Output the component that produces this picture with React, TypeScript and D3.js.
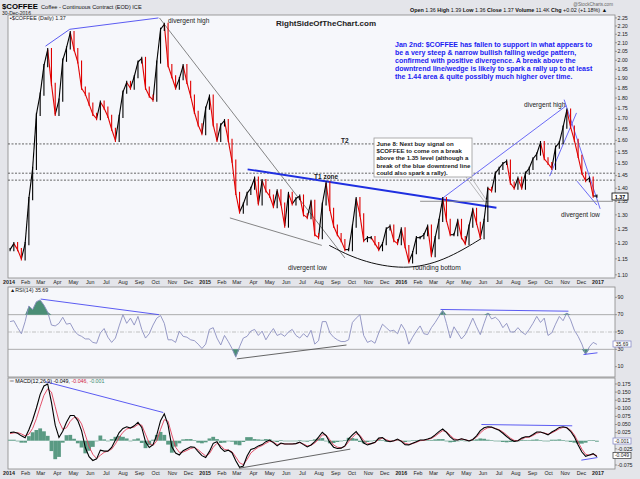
import React from "react";
import * as d3 from "d3";

// ---------- DATA (weekly samples) ----------
const WEEK0 = "2014-01-03";
const closes = [
  1.18, 1.2, 1.18, 1.15, 1.2, 1.36, 1.48, 1.72, 1.82, 1.97,
  2.06, 1.87, 1.72, 1.79, 2.0, 2.07, 2.16, 2.06, 1.99, 1.85,
  1.82, 1.77, 1.72, 1.7, 1.78, 1.75, 1.71, 1.65, 1.6, 1.71,
  1.83, 1.88, 1.85, 1.91, 1.99, 2.01, 1.85, 1.81, 1.79, 1.99,
  2.18, 2.21, 1.97, 1.91, 1.85, 1.9, 1.97, 1.88, 1.81, 1.73,
  1.67, 1.63, 1.75, 1.81, 1.67, 1.6, 1.67, 1.69, 1.6, 1.51,
  1.38, 1.31, 1.34, 1.38, 1.4, 1.44, 1.34, 1.43, 1.39, 1.37,
  1.33, 1.39, 1.34, 1.26, 1.38, 1.34, 1.36, 1.37, 1.3, 1.29,
  1.35, 1.23, 1.22, 1.34, 1.42, 1.32, 1.26, 1.23, 1.21, 1.18,
  1.18, 1.26, 1.36, 1.3, 1.21, 1.22, 1.22, 1.2, 1.18, 1.2,
  1.25, 1.26, 1.21, 1.2, 1.25, 1.19, 1.14, 1.17, 1.22, 1.22,
  1.23, 1.26, 1.16, 1.22, 1.28, 1.36, 1.28, 1.23, 1.23, 1.28,
  1.22, 1.2, 1.26, 1.32, 1.27, 1.22, 1.28, 1.4, 1.39, 1.46,
  1.48, 1.5, 1.51, 1.42, 1.4, 1.44, 1.4, 1.46, 1.48, 1.52,
  1.54, 1.59, 1.52, 1.5, 1.48, 1.57, 1.59, 1.66, 1.74, 1.66,
  1.6, 1.53, 1.46, 1.43, 1.44, 1.37, 1.37,
];
const rsi14 = [
  62, 63, 55, 48, 62, 80, 76, 85, 87, 81,
  73, 58, 57, 60, 67, 59, 60, 52, 47, 45,
  42, 42, 38, 37, 49, 54, 44, 38, 43, 57,
  70, 60, 66, 58, 68, 53, 43, 48, 58, 66,
  69, 60, 41, 41, 38, 51, 45, 44, 41, 40,
  36, 31, 36, 53, 55, 43, 35, 46, 39, 31,
  21, 33, 43, 45, 51, 53, 46, 51, 41, 48,
  54, 46, 48, 45, 50, 53, 46, 43, 48, 44,
  52, 36, 40, 62, 62, 49, 44, 41, 39, 39,
  41, 61, 66, 70, 46, 38, 40, 37, 49, 59,
  55, 51, 52, 48, 59, 52, 36, 44, 51, 57,
  48, 47, 55, 61, 68, 75, 60, 43, 56, 49,
  42, 47, 56, 66, 56, 47, 60, 72, 65, 67,
  63, 55, 60, 50, 50, 55, 50, 47, 53, 60,
  68, 61, 66, 46, 49, 59, 68, 63, 72, 64,
  52, 45, 36, 24, 33, 38, 35.69,
];
const macdLine = [
  0.025, 0.027, 0.023, 0.015, 0.009, 0.034, 0.064, 0.101, 0.143, 0.169,
  0.175, 0.118, 0.048, 0.01, 0.029, 0.057, 0.078, 0.078, 0.062, 0.031,
  -0.021, -0.049, -0.061, -0.056, -0.029, -0.032, -0.032, -0.021, 0.002, 0.025,
  0.038, 0.043, 0.039, 0.046, 0.057, 0.041, -0.003, -0.021, -0.012, 0.018,
  0.062, 0.083, 0.048, -0.019, -0.038, -0.044, -0.031, -0.025, -0.019, -0.02,
  -0.034, -0.046, -0.052, -0.033, -0.008, -0.003, -0.022, -0.033, -0.029, -0.037,
  -0.062, -0.082, -0.078, -0.047, -0.027, -0.023, -0.016, -0.012, -0.003, 0.002,
  -0.006, -0.016, -0.007, -0.01, -0.01, -0.01, -0.009, -0.004, -0.012, -0.019,
  -0.013, -0.003, 0.011, 0.026, 0.016, -0.005, -0.02, -0.024, -0.023, -0.016,
  0.006, 0.018, 0.028, 0.013, -0.007, -0.013, -0.009, -0.005, 0.008, 0.01,
  0.0, -0.003, 0.0, 0.005, -0.002, -0.012, -0.013, -0.008, -0.003, 0.002,
  0.002, 0.005, 0.009, 0.018, 0.028, 0.036, 0.026, 0.012, 0.002, 0.002,
  0.006, 0.003, -0.001, 0.004, 0.015, 0.031, 0.04, 0.043, 0.042, 0.037,
  0.032, 0.023, 0.013, 0.004, -0.002, 0.0, 0.008, 0.012, 0.012, 0.019,
  0.027, 0.027, 0.023, 0.018, 0.027, 0.033, 0.041, 0.043, 0.04, 0.029,
  0.012, -0.013, -0.035, -0.048, -0.044, -0.04, -0.049,
];
const signalLine = [
  0.022, 0.024, 0.025, 0.021, 0.015, 0.02, 0.038, 0.068, 0.105, 0.14,
  0.16, 0.15, 0.105, 0.06, 0.035, 0.04, 0.06, 0.072, 0.07, 0.052,
  0.018, -0.018, -0.042, -0.055, -0.045, -0.036, -0.032, -0.026, -0.01, 0.01,
  0.026, 0.036, 0.04, 0.042, 0.05, 0.048, 0.02, -0.008, -0.015, 0.0,
  0.035, 0.065, 0.06, 0.018, -0.02, -0.036, -0.035, -0.03, -0.024, -0.021,
  -0.028, -0.038, -0.047, -0.04, -0.02, -0.008, -0.015, -0.027, -0.029, -0.034,
  -0.05, -0.068, -0.074, -0.058, -0.038, -0.028, -0.02, -0.015, -0.008, -0.002,
  -0.004, -0.012, -0.009, -0.01, -0.01, -0.01, -0.009, -0.006, -0.01, -0.016,
  -0.014, -0.007, 0.004, 0.018, 0.018, 0.003, -0.013, -0.02, -0.022, -0.018,
  -0.003, 0.01, 0.022, 0.017, 0.001, -0.009, -0.009, -0.006, 0.004, 0.008,
  0.003, -0.001, -0.001, 0.003, 0.0, -0.008, -0.011, -0.009, -0.005, 0.0,
  0.001, 0.004, 0.007, 0.014, 0.023, 0.031, 0.028, 0.017, 0.006, 0.003,
  0.005, 0.003, 0.0, 0.003, 0.011, 0.024, 0.034, 0.04, 0.041, 0.038,
  0.034, 0.027, 0.018, 0.008, 0.001, 0.0, 0.005, 0.01, 0.011, 0.016,
  0.023, 0.026, 0.024, 0.02, 0.024, 0.03, 0.037, 0.041, 0.04, 0.033,
  0.018, -0.004, -0.026, -0.042, -0.045, -0.042, -0.046,
];

const priceTickLabels = [
  "1.10", "1.15", "1.20", "1.25", "1.30", "1.35", "1.40", "1.45", "1.50", "1.55", "1.60", "1.65",
  "1.70", "1.75", "1.80", "1.85", "1.90", "1.95", "2.00", "2.05", "2.10", "2.15", "2.20", "2.25",
];
const rsiTicks = [10, 30, 50, 70, 90];
const macdTickLabels = ["0.175", "0.150", "0.125", "0.100", "0.075", "0.050", "0.025", "-0.025", "-0.075"];
const monthAbbr = ["", "Feb", "Mar", "Apr", "May", "Jun", "Jul", "Aug", "Sep", "Oct", "Nov", "Dec"];

// trend lines drawn on the chart: [date, value] endpoints
type Seg = { a: [string, number]; b: [string, number]; c: string; w: number };
const priceLines: Seg[] = [
  { a: ["2014-03-10", 2.08], b: ["2014-04-24", 2.18], c: "#4a4af0", w: 0.9 },
  { a: ["2014-04-24", 2.18], b: ["2014-10-06", 2.25], c: "#4a4af0", w: 0.9 },
  { a: ["2014-10-08", 2.25], b: ["2015-09-18", 1.153], c: "#777777", w: 0.9 },
  { a: ["2015-02-16", 1.289], b: ["2015-08-06", 1.194], c: "#777777", w: 0.9 },
  { a: ["2015-03-21", 1.476], b: ["2016-06-26", 1.326], c: "#1f2fe0", w: 1.8 },
  { a: ["2016-03-16", 1.359], b: ["2016-11-03", 1.762], c: "#5a5af5", w: 0.9 },
  { a: ["2016-10-03", 1.448], b: ["2016-11-22", 1.727], c: "#5a5af5", w: 0.9 },
  { a: ["2016-10-30", 1.792], b: ["2017-01-05", 1.322], c: "#5a5af5", w: 0.9 },
  { a: ["2016-11-23", 1.428], b: ["2016-12-30", 1.336], c: "#5a5af5", w: 0.9 },
  { a: ["2016-02-05", 1.35], b: ["2017-01-29", 1.35], c: "#888888", w: 0.9 },
];
const levelLines = [1.584, 1.46, 1.432];
const roundingBottom: [string, number][] = [
  ["2015-08-20", 1.194], ["2015-10-15", 1.143], ["2016-01-07", 1.114], ["2016-03-21", 1.143], ["2016-05-29", 1.217],
];
const rsiLines: Seg[] = [
  { a: ["2014-03-01", 88], b: ["2014-10-07", 70], c: "#4a4af0", w: 0.9 },
  { a: ["2015-03-01", 19], b: ["2015-09-21", 35], c: "#555555", w: 0.9 },
  { a: ["2016-03-14", 76], b: ["2016-11-07", 74], c: "#4a4af0", w: 0.9 },
  { a: ["2016-12-05", 24], b: ["2016-12-31", 26], c: "#4a4af0", w: 0.9 },
];
const macdLines: Seg[] = [
  { a: ["2014-03-10", 0.182], b: ["2014-10-15", 0.087], c: "#4a4af0", w: 0.9 },
  { a: ["2015-03-05", -0.085], b: ["2015-09-28", -0.026], c: "#555555", w: 0.9 },
  { a: ["2016-05-29", 0.05], b: ["2016-11-14", 0.046], c: "#4a4af0", w: 0.9 },
  { a: ["2016-12-01", -0.06], b: ["2016-12-31", -0.052], c: "#4a4af0", w: 0.9 },
];

const noteLines = [
  "Jan 2nd: $COFFEE has fallen to support in what appears to",
  "be a very steep & narrow bullish falling wedge pattern,",
  "confirmed with positive divergence. A break above the",
  "downtrend line/wedge is likely to spark a rally up to at least",
  "the 1.44 area & quite possibly much higher over time.",
];
const calloutLines = [
  "June 8: Next buy signal on",
  "$COFFEE to come on a break",
  "above the 1.35 level (although a",
  "break of the blue downtrend line",
  "could also spark a rally).",
];

// ---------- LAYOUT ----------
const W = 640, H = 479;
const L = 8, R = 615;
const MAIN = { t: 15, b: 278 };
const RSIP = { t: 287, b: 377 };
const MACDP = { t: 378, b: 469 };
const FONT = "'Liberation Sans', Arial, sans-serif";

const parse = d3.timeParse("%Y-%m-%d");

export default function App() {
  const start = parse(WEEK0)!;
  const dates = closes.map((_, i) => d3.timeDay.offset(start, 7 * i));
  const x = d3.scaleTime().domain([new Date(2014, 0, 1), new Date(2017, 0, 1)]).range([9, 598]);
  const yP = d3.scaleLog().domain([1.0903, 2.2685]).range([MAIN.b, MAIN.t]);
  const yR = d3.scaleLinear().domain([-1.9, 101.9]).range([RSIP.b, RSIP.t]);
  const yM = d3.scaleLinear().domain([-0.0873, 0.1935]).range([MACDP.b, MACDP.t]);

  const months = d3.timeMonth.range(new Date(2014, 0, 1), new Date(2017, 0, 2));

  const seg = (s: Seg, ys: (v: number) => number, k: string) => (
    <line key={k} x1={x(parse(s.a[0])!)} y1={ys(s.a[1])} x2={x(parse(s.b[0])!)} y2={ys(s.b[1])}
      stroke={s.c} strokeWidth={s.w} />
  );

  const rsiPath = d3.line<number>().x((_, i) => x(dates[i])).y((v) => yR(v))(rsi14) || "";
  const rsiAreaHigh = d3.area<number>().x((_, i) => x(dates[i])).y0(yR(70)).y1((v) => yR(Math.max(v, 70)))(rsi14) || "";
  const rsiAreaLow = d3.area<number>().x((_, i) => x(dates[i])).y0(yR(30)).y1((v) => yR(Math.min(v, 30)))(rsi14) || "";
  const macdPath = d3.line<number>().x((_, i) => x(dates[i])).y((v) => yM(v))(macdLine) || "";
  const sigPath = d3.line<number>().x((_, i) => x(dates[i])).y((v) => yM(v))(signalLine) || "";
  const rbPath = d3.line<[string, number]>().curve(d3.curveBasis)
    .x((d) => x(parse(d[0])!)).y((d) => yP(d[1]))(roundingBottom) || "";

  const dateAxis = (yy: number, k: string) => (
    <g key={k} fontFamily={FONT} fontSize={5.3} fill="#222" textAnchor="middle">
      {months.map((m, i) => {
        const isYear = m.getMonth() === 0;
        return (
          <text key={i} x={x(m)} y={yy} fontWeight={isYear ? "bold" : "normal"}>
            {isYear ? String(m.getFullYear()) : monthAbbr[m.getMonth()]}
          </text>
        );
      })}
    </g>
  );

  const panelBg = "#f6f7fb";
  const n = Math.min(closes.length, dates.length);

  return (
    <svg width={W} height={H} style={{ position: "absolute", left: 0, top: 0 }} fontFamily={FONT}>
      <defs>
        <clipPath id="cMain"><rect x={L} y={MAIN.t} width={R - L} height={MAIN.b - MAIN.t} /></clipPath>
        <clipPath id="cRsi"><rect x={L} y={RSIP.t} width={R - L} height={RSIP.b - RSIP.t} /></clipPath>
        <clipPath id="cMacd"><rect x={L} y={MACDP.t} width={R - L} height={MACDP.b - MACDP.t} /></clipPath>
      </defs>
      <rect x={0} y={0} width={W} height={H} fill="#e4e5ea" />
      {/* header */}
      <text x={2} y={9} fontSize={7.8} fontWeight="bold" fill="#000">$COFFEE</text>
      <text x={41} y={9} fontSize={5.6} fill="#111">Coffee - Continuous Contract (EOD) ICE</text>
      <text x={2} y={14.5} fontSize={5} fill="#111">30-Dec-2016</text>
      <text x={613} y={5.5} fontSize={4.6} fill="#666" textAnchor="end">@StockCharts.com</text>
      <text x={607} y={12.3} fontSize={5.4} fill="#111" textAnchor="end">
        <tspan fontWeight="bold">Open</tspan> 1.36 <tspan fontWeight="bold">High</tspan> 1.39{" "}
        <tspan fontWeight="bold">Low</tspan> 1.36 <tspan fontWeight="bold">Close</tspan> 1.37{" "}
        <tspan fontWeight="bold">Volume</tspan> 11.4K <tspan fontWeight="bold">Chg</tspan> +0.02 (+1.18%) ▲
      </text>

      {/* MAIN PANEL */}
      <rect x={L} y={MAIN.t} width={R - L} height={MAIN.b - MAIN.t} fill={panelBg} stroke="#888" strokeWidth={0.8} />
      <g clipPath="url(#cMain)">
        {levelLines.map((v, i) => (
          <line key={i} x1={L} x2={R} y1={yP(v)} y2={yP(v)} stroke="#555" strokeWidth={0.9} strokeDasharray="2,1.5" />
        ))}
        {priceLines.map((s, i) => seg(s, yP, "p" + i))}
        <path d={rbPath} fill="none" stroke="#111" strokeWidth={1} />
        {d3.range(1, n).map((i) => {
          const p0 = closes[i - 1], p1 = closes[i];
          const col = p1 >= p0 ? "#000" : "#e00000";
          return (
            <line key={"s" + i} x1={x(dates[i - 1])} y1={yP(p0)} x2={x(dates[i])} y2={yP(p1)} stroke={col} strokeWidth={1.1} />
          );
        })}
        {d3.range(0, n).map((i) => {
          const p0 = i > 0 ? closes[i - 1] : closes[0], p1 = closes[i];
          const col = p1 >= p0 ? "#000" : "#e00000";
          const xx = x(dates[i]);
          return (
            <line key={"b" + i} x1={xx} x2={xx} y1={yP(Math.max(p0, p1)) - 1.6} y2={yP(Math.min(p0, p1)) + 1.6}
              stroke={col} strokeWidth={1.1} />
          );
        })}
      </g>
      <text x={10} y={20} fontSize={5.4} fill="#222">▪$COFFEE (Daily) 1.37</text>
      <text x={276} y={26} fontSize={8} fontWeight="bold" fill="#222">RightSideOfTheChart.com</text>
      <g fontSize={7} fill="#1c1cf2" fontWeight="bold">
        {noteLines.map((t, i) => (
          <text key={i} x={395} y={47 + i * 8}>{t}</text>
        ))}
      </g>
      <g fontSize={6.6} fill="#222">
        <text x={168} y={23}>divergent high</text>
        <text x={288} y={270}>divergent low</text>
        <text x={413} y={270}>rounding bottom</text>
        <text x={524} y={107}>divergent high</text>
        <text x={561} y={217}>divergent low</text>
      </g>
      <text x={341} y={143} fontSize={6.5} fontWeight="bold" fill="#222">T2</text>
      <text x={314} y={178.5} fontSize={6.5} fontWeight="bold" fill="#222">T1 zone</text>
      {/* callout */}
      <line x1={466} y1={177} x2={484} y2={201} stroke="#999" strokeWidth={0.7} />
      <line x1={471} y1={177} x2={487} y2={201} stroke="#999" strokeWidth={0.7} />
      <rect x={374} y={138} width={98} height={39} fill="#fff" stroke="#999" strokeWidth={0.8} />
      <g fontSize={6.1} fontWeight="bold" fill="#222">
        {calloutLines.map((t, i) => (
          <text key={i} x={376.5} y={145.5 + i * 7.4}>{t}</text>
        ))}
      </g>
      {/* price axis */}
      <g fontSize={5.3} fill="#222">
        {priceTickLabels.map((t) => (
          <g key={t}>
            <line x1={R} x2={R + 2} y1={yP(+t)} y2={yP(+t)} stroke="#666" strokeWidth={0.6} />
            <text x={R + 2.5} y={yP(+t) + 1.8}>{t}</text>
          </g>
        ))}
      </g>
      <rect x={612} y={193} width={16} height={7} fill="#fff" stroke="#000" strokeWidth={0.8} />
      <text x={620} y={198.6} fontSize={5.4} fontWeight="bold" textAnchor="middle" fill="#000">1.37</text>

      {dateAxis(284, "d1")}

      {/* RSI PANEL */}
      <rect x={L} y={RSIP.t} width={R - L} height={RSIP.b - RSIP.t} fill={panelBg} stroke="#888" strokeWidth={0.8} />
      <g clipPath="url(#cRsi)">
        <line x1={L} x2={R} y1={yR(70)} y2={yR(70)} stroke="#999" strokeWidth={0.8} />
        <line x1={L} x2={R} y1={yR(30)} y2={yR(30)} stroke="#999" strokeWidth={0.8} />
        <line x1={L} x2={R} y1={yR(50)} y2={yR(50)} stroke="#aaa" strokeWidth={0.7} strokeDasharray="4,1.5,1,1.5" />
        <path d={rsiAreaHigh} fill="#4b8e76" />
        <path d={rsiAreaLow} fill="#4b8e76" />
        <path d={rsiPath} fill="none" stroke="#8b8fbf" strokeWidth={0.9} />
        {rsiLines.map((s, i) => seg(s, yR, "r" + i))}
      </g>
      <text x={10} y={292} fontSize={5.3} fill="#222">▲RSI(14) 35.69</text>
      <g fontSize={5.3} fill="#222">
        {rsiTicks.map((t) => (
          <g key={t}>
            <line x1={R} x2={R + 2} y1={yR(t)} y2={yR(t)} stroke="#666" strokeWidth={0.6} />
            <text x={R + 2.5} y={yR(t) + 1.8}>{t}</text>
          </g>
        ))}
      </g>
      <rect x={613} y={341} width={18} height={6} fill="#fff" stroke="#7c7fc4" strokeWidth={0.7} />
      <text x={622} y={345.8} fontSize={5} textAnchor="middle" fill="#222">35.69</text>

      {/* MACD PANEL */}
      <rect x={L} y={MACDP.t} width={R - L} height={MACDP.b - MACDP.t} fill={panelBg} stroke="#888" strokeWidth={0.8} />
      <g clipPath="url(#cMacd)">
        {d3.range(0, n).map((i) => {
          const h = macdLine[i] - signalLine[i];
          const xx = x(dates[i]);
          return (
            <rect key={"h" + i} x={xx - 1.9} width={3.8} y={Math.min(yM(0), yM(h))} height={Math.max(0.6, Math.abs(yM(h) - yM(0)))}
              fill="#5a9a83" />
          );
        })}
        <path d={sigPath} fill="none" stroke="#e0405a" strokeWidth={0.9} />
        <path d={macdPath} fill="none" stroke="#000" strokeWidth={1.1} />
        {macdLines.map((s, i) => seg(s, yM, "m" + i))}
      </g>
      <text x={10} y={383} fontSize={5.3}>
        <tspan fill="#000">═ MACD(12,26,9) -0.049, </tspan>
        <tspan fill="#d02040">-0.046, </tspan>
        <tspan fill="#3b8a6e">-0.001</tspan>
      </text>
      <g fontSize={5.3} fill="#222">
        {macdTickLabels.map((t) => (
          <g key={t}>
            <line x1={R} x2={R + 2} y1={yM(+t)} y2={yM(+t)} stroke="#666" strokeWidth={0.6} />
            <text x={R + 2.5} y={yM(+t) + 1.8}>{t}</text>
          </g>
        ))}
      </g>
      <rect x={613} y={438} width={18} height={6} fill="#fff" stroke="#7c7fc4" strokeWidth={0.7} />
      <text x={622} y={442.8} fontSize={5} textAnchor="middle" fill="#222">-0.001</text>
      <rect x={613} y={452.5} width={18} height={6} fill="#fff" stroke="#333" strokeWidth={0.7} />
      <text x={622} y={457.3} fontSize={5} textAnchor="middle" fill="#222">-0.049</text>

      {dateAxis(475, "d2")}
    </svg>
  );
}
